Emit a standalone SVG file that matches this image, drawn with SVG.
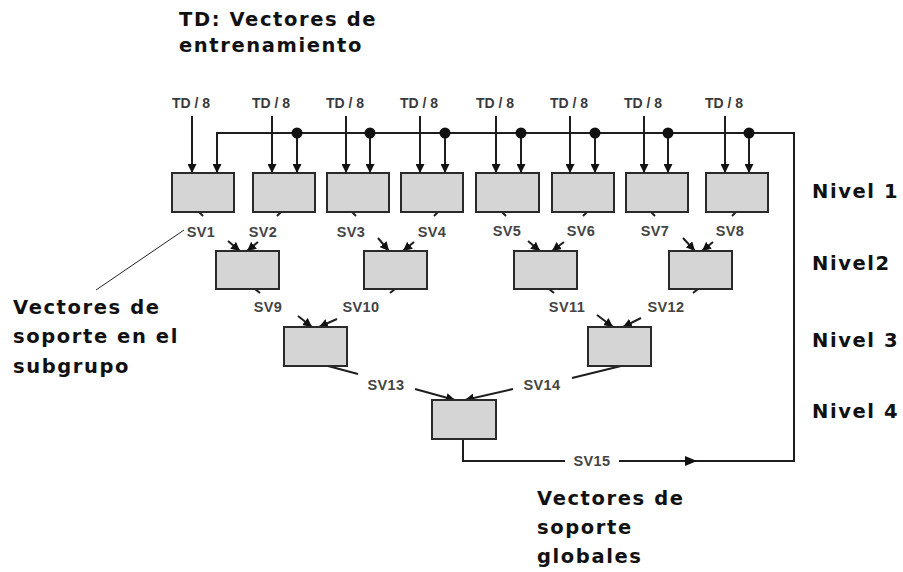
<svg xmlns="http://www.w3.org/2000/svg" width="903" height="572" viewBox="0 0 903 572">
  <defs>
    <marker id="ah" viewBox="0 0 10 10" refX="10" refY="5" markerWidth="4.5" markerHeight="4.5" orient="auto" markerUnits="strokeWidth">
      <path d="M0,0 L10,5 L0,10 z" fill="#111"/>
    </marker>
  </defs>
  <style>
    .box { fill: #d5d5d5; stroke: #2a2a2a; stroke-width: 2; }
    .ln { fill: none; stroke: #1e1e1e; stroke-width: 2; }
    .arr { fill: none; stroke: #1e1e1e; stroke-width: 2; marker-end: url(#ah); }
    .dot { fill: #111; }
    .td { font-family: "Liberation Sans", Arial, sans-serif; font-size: 14px; font-weight: bold; fill: #3a3a3a; text-anchor: middle; }
    .sv { font-family: "Liberation Sans", Arial, sans-serif; font-size: 14.5px; font-weight: bold; fill: #444; text-anchor: middle; letter-spacing: 0.4px; }
    .big { font-family: "DejaVu Sans", Verdana, sans-serif; font-size: 19.5px; font-weight: bold; fill: #111; letter-spacing: 1.6px; }
  </style>

  <rect width="903" height="572" fill="#fff"/>

  <!-- headings -->
  <g id="title">
    <text class="big" x="179" y="26">TD: Vectores de</text>
    <text class="big" x="179" y="52">entrenamiento</text>
  </g>
  <g id="label-subgrupo">
    <text class="big" x="13" y="314">Vectores de</text>
    <text class="big" x="13" y="343">soporte en el</text>
    <text class="big" x="13" y="373">subgrupo</text>
  </g>
  <g id="label-globales">
    <text class="big" x="537" y="505">Vectores de</text>
    <text class="big" x="537" y="534">soporte</text>
    <text class="big" x="537" y="563">globales</text>
  </g>
  <g id="levels">
    <text class="big" x="812" y="198">Nivel 1</text>
    <text class="big" x="812" y="270">Nivel2</text>
    <text class="big" x="812" y="347">Nivel 3</text>
    <text class="big" x="812" y="418">Nivel 4</text>
  </g>

  <!-- connectors -->
  <g id="connectors">
    <!-- training data inputs -->
    <g id="td-inputs">
      <line class="arr" x1="192" y1="116" x2="192" y2="173"/>
      <line class="arr" x1="272" y1="116" x2="272" y2="173"/>
      <line class="arr" x1="346" y1="116" x2="346" y2="173"/>
      <line class="arr" x1="420" y1="116" x2="420" y2="173"/>
      <line class="arr" x1="496" y1="116" x2="496" y2="173"/>
      <line class="arr" x1="570" y1="116" x2="570" y2="173"/>
      <line class="arr" x1="644" y1="116" x2="644" y2="173"/>
      <line class="arr" x1="725" y1="116" x2="725" y2="173"/>
    </g>
    <!-- global feedback bus -->
    <g id="feedback">
      <path class="ln" d="M463,439 V461 H565"/>
      <path class="ln" d="M619,461 H794 V133 H217"/>
      <line class="arr" x1="217" y1="132" x2="217" y2="173"/>
      <path d="M685,456 L697,461 L685,466 z" fill="#111"/>
      <line class="arr" x1="297" y1="133" x2="297" y2="173"/>
      <line class="arr" x1="370" y1="133" x2="370" y2="173"/>
      <line class="arr" x1="445" y1="133" x2="445" y2="173"/>
      <line class="arr" x1="521" y1="133" x2="521" y2="173"/>
      <line class="arr" x1="595" y1="133" x2="595" y2="173"/>
      <line class="arr" x1="668" y1="133" x2="668" y2="173"/>
      <line class="arr" x1="749" y1="133" x2="749" y2="173"/>
      <circle class="dot" cx="297" cy="133" r="5.5"/>
      <circle class="dot" cx="370" cy="133" r="5.5"/>
      <circle class="dot" cx="445" cy="133" r="5.5"/>
      <circle class="dot" cx="521" cy="133" r="5.5"/>
      <circle class="dot" cx="595" cy="133" r="5.5"/>
      <circle class="dot" cx="668" cy="133" r="5.5"/>
      <circle class="dot" cx="749" cy="133" r="5.5"/>
    </g>
    <!-- level 1 to level 2 -->
    <g id="l1-l2">
      <line class="ln" x1="199" y1="212" x2="203" y2="216"/>
      <line class="arr" x1="228" y1="241" x2="240" y2="251"/>
      <line class="ln" x1="281" y1="212" x2="277" y2="216"/>
      <line class="arr" x1="258" y1="242" x2="247" y2="251"/>
      <line class="ln" x1="352" y1="212" x2="356" y2="216"/>
      <line class="arr" x1="378" y1="238" x2="389" y2="251"/>
      <line class="ln" x1="438" y1="212" x2="434" y2="216"/>
      <line class="arr" x1="414" y1="242" x2="403" y2="251"/>
      <line class="ln" x1="502" y1="212" x2="506" y2="216"/>
      <line class="arr" x1="528" y1="241" x2="540" y2="251"/>
      <line class="ln" x1="587" y1="212" x2="583" y2="216"/>
      <line class="arr" x1="564" y1="242" x2="552" y2="251"/>
      <line class="ln" x1="651" y1="212" x2="655" y2="216"/>
      <line class="arr" x1="683" y1="238" x2="695" y2="251"/>
      <line class="ln" x1="736" y1="212" x2="732" y2="216"/>
      <line class="arr" x1="713" y1="242" x2="702" y2="251"/>
    </g>
    <!-- level 2 to level 3 -->
    <g id="l2-l3">
      <line class="ln" x1="255" y1="289" x2="260" y2="293"/>
      <line class="arr" x1="298" y1="316" x2="312" y2="327"/>
      <line class="ln" x1="395" y1="289" x2="390" y2="293"/>
      <line class="arr" x1="337" y1="319" x2="319" y2="327"/>
      <line class="ln" x1="549" y1="289" x2="554" y2="293"/>
      <line class="arr" x1="597" y1="315" x2="613" y2="327"/>
      <line class="ln" x1="698" y1="289" x2="693" y2="293"/>
      <line class="arr" x1="641" y1="318" x2="623" y2="327"/>
    </g>
    <!-- level 3 to level 4 -->
    <g id="l3-l4">
      <line class="ln" x1="328" y1="366" x2="358" y2="374"/>
      <line class="arr" x1="415" y1="389" x2="455" y2="400"/>
      <line class="ln" x1="621" y1="366" x2="572" y2="378"/>
      <line class="arr" x1="513" y1="389" x2="465" y2="400"/>
    </g>
    <!-- leader for the subgroup label -->
    <line x1="184" y1="230" x2="96" y2="290" stroke="#222" stroke-width="1"/>
  </g>

  <!-- input labels -->
  <g id="td-labels">
    <text class="td" x="191" y="108">TD / 8</text>
    <text class="td" x="271" y="108">TD / 8</text>
    <text class="td" x="345" y="108">TD / 8</text>
    <text class="td" x="419" y="108">TD / 8</text>
    <text class="td" x="495" y="108">TD / 8</text>
    <text class="td" x="569" y="108">TD / 8</text>
    <text class="td" x="643" y="108">TD / 8</text>
    <text class="td" x="724" y="108">TD / 8</text>
  </g>

  <!-- level 1 nodes -->
  <g id="n1"><rect class="box" x="172" y="173" width="62" height="39"/></g>
  <g id="n2"><rect class="box" x="253" y="173" width="62" height="39"/></g>
  <g id="n3"><rect class="box" x="327" y="173" width="62" height="39"/></g>
  <g id="n4"><rect class="box" x="401" y="173" width="62" height="39"/></g>
  <g id="n5"><rect class="box" x="476" y="173" width="63" height="39"/></g>
  <g id="n6"><rect class="box" x="552" y="173" width="62" height="39"/></g>
  <g id="n7"><rect class="box" x="626" y="173" width="62" height="39"/></g>
  <g id="n8"><rect class="box" x="706" y="173" width="62" height="39"/></g>
  <!-- level 2 nodes -->
  <g id="n9"><rect class="box" x="216" y="251" width="63" height="38"/></g>
  <g id="n10"><rect class="box" x="364" y="251" width="63" height="38"/></g>
  <g id="n11"><rect class="box" x="514" y="251" width="63" height="38"/></g>
  <g id="n12"><rect class="box" x="669" y="251" width="63" height="38"/></g>
  <!-- level 3 nodes -->
  <g id="n13"><rect class="box" x="284" y="327" width="63" height="39"/></g>
  <g id="n14"><rect class="box" x="588" y="327" width="63" height="39"/></g>
  <!-- level 4 node -->
  <g id="n15"><rect class="box" x="432" y="400" width="64" height="39"/></g>

  <!-- support vector labels -->
  <g id="sv-labels">
    <text class="sv" x="201" y="237">SV1</text>
    <text class="sv" x="263" y="237">SV2</text>
    <text class="sv" x="351" y="237">SV3</text>
    <text class="sv" x="432" y="237">SV4</text>
    <text class="sv" x="507" y="236">SV5</text>
    <text class="sv" x="581" y="236">SV6</text>
    <text class="sv" x="655" y="236">SV7</text>
    <text class="sv" x="730" y="236">SV8</text>
    <text class="sv" x="268" y="312">SV9</text>
    <text class="sv" x="361" y="312">SV10</text>
    <text class="sv" x="567" y="312">SV11</text>
    <text class="sv" x="666" y="312">SV12</text>
    <text class="sv" x="386" y="390">SV13</text>
    <text class="sv" x="542" y="390">SV14</text>
    <text class="sv" x="592" y="466">SV15</text>
  </g>
</svg>
